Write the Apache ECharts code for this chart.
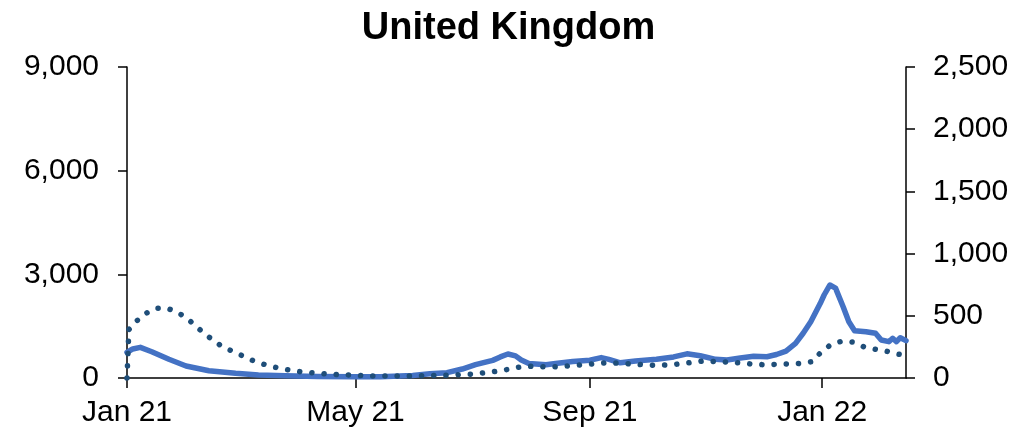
<!DOCTYPE html>
<html>
<head>
<meta charset="utf-8">
<script src="https://cdn.jsdelivr.net/npm/echarts@6/dist/echarts.min.js"></script>
<style>
html,body{margin:0;padding:0;background:#fff;}
#chart{width:1017px;height:435px;}
</style>
</head>
<body>
<div id="chart"></div>
<script>
// Solid line: left axis
const casesDates = ["2021-01-01","2021-01-04","2021-01-08","2021-01-14","2021-01-23","2021-02-01","2021-02-13","2021-02-27","2021-03-11","2021-03-25","2021-04-11","2021-05-01","2021-05-14","2021-05-31","2021-06-09","2021-06-18","2021-06-26","2021-07-03","2021-07-12","2021-07-16","2021-07-20","2021-07-24","2021-07-27","2021-07-31","2021-08-09","2021-08-14","2021-08-23","2021-09-01","2021-09-07","2021-09-11","2021-09-17","2021-09-25","2021-10-06","2021-10-15","2021-10-22","2021-10-29","2021-11-06","2021-11-12","2021-11-19","2021-11-26","2021-12-03","2021-12-08","2021-12-13","2021-12-18","2021-12-22","2021-12-26","2021-12-31","2022-01-02","2022-01-05","2022-01-08","2022-01-12","2022-01-15","2022-01-18","2022-01-24","2022-01-29","2022-02-01","2022-02-05","2022-02-07","2022-02-09","2022-02-11","2022-02-14"];
const casesValues = [740,840,888,761,541,347,211,136,87,67,45,35,38,70,124,155,260,385,510,610,695,640,521,420,385,420,480,515,590,540,440,490,540,610,700,645,540,521,580,630,616,680,780,1004,1294,1629,2162,2402,2691,2600,2063,1629,1369,1340,1294,1100,1051,1149,1051,1166,1080];

// Dotted line: right axis
const hospDates = ["2021-01-01","2021-01-02","2021-01-06","2021-01-11","2021-01-16","2021-01-22","2021-01-27","2021-02-01","2021-02-06","2021-02-10","2021-02-15","2021-02-20","2021-02-26","2021-03-04","2021-03-09","2021-03-15","2021-03-22","2021-03-28","2021-04-03","2021-04-10","2021-04-16","2021-04-22","2021-04-29","2021-05-05","2021-05-12","2021-05-24","2021-06-06","2021-06-19","2021-06-25","2021-07-02","2021-07-08","2021-07-15","2021-07-21","2021-07-27","2021-08-03","2021-08-09","2021-08-15","2021-08-22","2021-08-28","2021-09-03","2021-09-10","2021-09-16","2021-09-23","2021-09-29","2021-10-05","2021-10-11","2021-10-18","2021-10-24","2021-10-31","2021-11-06","2021-11-12","2021-11-19","2021-11-25","2021-12-01","2021-12-08","2021-12-14","2021-12-20","2021-12-27","2021-12-31","2022-01-05","2022-01-11","2022-01-17","2022-01-23","2022-01-29","2022-02-04","2022-02-10","2022-02-13"];
const hospValues = [0,390,458,520,560,560,533,485,421,364,306,252,211,169,134,105,78,62,48,40,32,27,24,18,16,16,18,22,28,32,42,56,72,91,95,88,91,99,106,114,123,119,113,106,102,105,113,124,137,132,129,121,112,107,110,114,117,132,202,262,295,289,250,231,215,191,185];

const xTickDates = ["2021-01-01","2021-05-01","2021-09-01","2022-01-01"];
const xTickLabels = ["Jan 21","May 21","Sep 21","Jan 22"];
const xStart = "2021-01-01";
const xEnd = "2022-02-14";
const leftTicks = [0,3000,6000,9000];
const rightTicks = [0,500,1000,1500,2000,2500];
const titleText = "United Kingdom";

// convert date string to day number since xStart (UTC to avoid DST issues)
const dayNum = s => Math.round((Date.parse(s + "T00:00:00Z") - Date.parse(xStart + "T00:00:00Z")) / 86400000);
const xTickValues = xTickDates.map(dayNum);

const chart = echarts.init(document.getElementById('chart'), null, {renderer:'canvas'});
const fontFam = '"Liberation Sans", Arial, sans-serif';
const axisCommon = {
  axisLine:{show:true, lineStyle:{color:'#000', width:1.5}},
  axisTick:{show:true, inside:false, length:9, lineStyle:{color:'#000', width:1.5}},
  splitLine:{show:false}
};
chart.setOption({
  animation:false,
  backgroundColor:'#fff',
  title:{text:titleText, left:'center', top:5, textStyle:{fontFamily:fontFam, fontWeight:'bold', fontSize:38, color:'#000'}},
  grid:{left:127, right:111, top:67, bottom:57, containLabel:false},
  xAxis:{
    type:'value',
    min:dayNum(xStart), max:dayNum(xEnd),
    axisLine:{show:true, onZero:false, lineStyle:{color:'#000', width:1.5}},
    axisTick:{show:true, length:10, lineStyle:{color:'#000', width:1.5}, customValues:xTickValues},
    axisLabel:{customValues:xTickValues, margin:20, fontFamily:fontFam, fontSize:30, color:'#000',
      formatter:function(v){ const i = xTickValues.indexOf(Math.round(v)); return i>=0 ? xTickLabels[i] : ''; },
      hideOverlap:false, showMinLabel:true, showMaxLabel:true},
    splitLine:{show:false}
  },
  yAxis:[
    Object.assign({}, axisCommon, {type:'value', position:'left', min:leftTicks[0], max:leftTicks[leftTicks.length-1], interval:leftTicks[1]-leftTicks[0],
      axisLabel:{margin:28, fontFamily:fontFam, fontSize:30, color:'#000', formatter:v=>v.toLocaleString('en-US')}}),
    Object.assign({}, axisCommon, {type:'value', position:'right', min:rightTicks[0], max:rightTicks[rightTicks.length-1], interval:rightTicks[1]-rightTicks[0],
      axisLabel:{margin:27, fontFamily:fontFam, fontSize:30, color:'#000', formatter:v=>v.toLocaleString('en-US')}})
  ],
  series:[
    {type:'line', yAxisIndex:0, showSymbol:false, smooth:false,
      lineStyle:{color:'#4472C4', width:5.5, cap:'round', join:'round'},
      data:casesDates.map((d,i)=>[dayNum(d), casesValues[i]])},
    {type:'line', yAxisIndex:1, showSymbol:false, smooth:false,
      lineStyle:{color:'#1F4E79', width:5.5, type:[0.1,12.1], cap:'round', join:'round'},
      data:hospDates.map((d,i)=>[dayNum(d), hospValues[i]])}
  ]
});
</script>
</body>
</html>
